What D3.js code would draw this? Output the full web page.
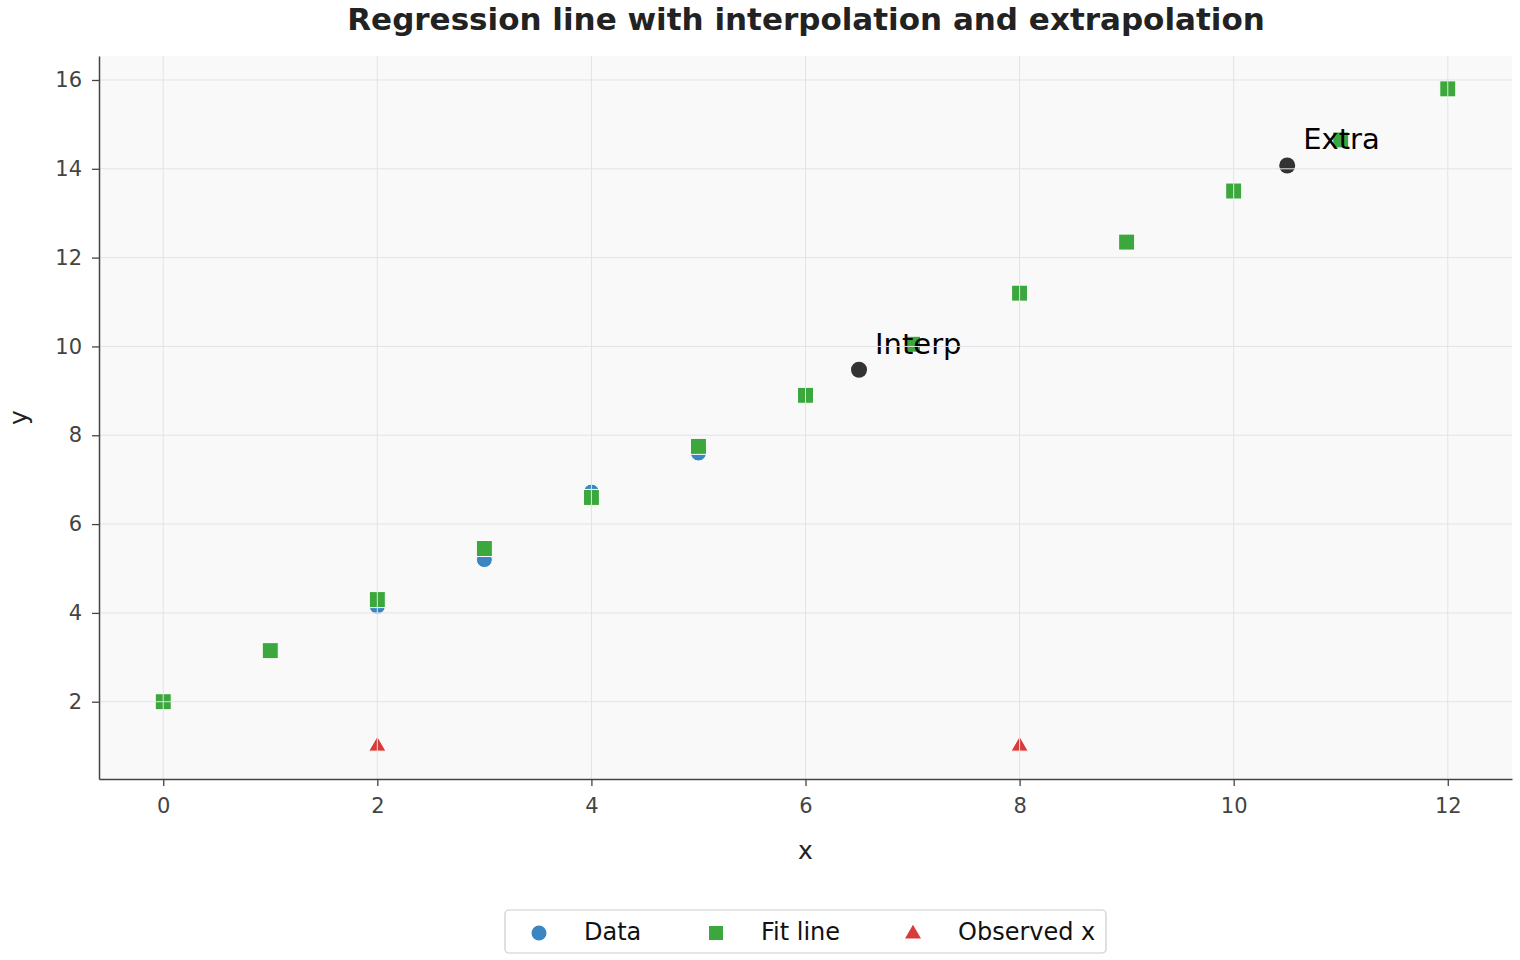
<!DOCTYPE html>
<html>
<head>
<meta charset="utf-8">
<script src="https://cdn.jsdelivr.net/npm/d3@7"></script>
<style>
  body { margin: 0; background: #fff; font-family: "DejaVu Sans", sans-serif; }
</style>
</head>
<body>
<div id="chart"></div>
<script>
// data
var dataX = [2, 3, 4, 5];
var dataY = [4.15, 5.2, 6.72, 7.6];

var fitX = [0, 1, 2, 3, 4, 5, 6, 7, 8, 9, 10, 11, 12];
var fitY = [2.0, 3.15, 4.3, 5.45, 6.6, 7.75, 8.9, 10.05, 11.2, 12.35, 13.5, 14.65, 15.8];

var observedX = [2, 8];
var observedY = [1, 1];

var noteX = [6.5, 10.5];
var noteY = [9.475, 14.075];
var noteText = ["Interp", "Extra"];

var xTicks = [0, 2, 4, 6, 8, 10, 12];
var yTicks = [2, 4, 6, 8, 10, 12, 14, 16];

var svgWidth = 1520;
var svgHeight = 960;

var margin = { top: 56, right: 8, bottom: 181, left: 99 };
var width = svgWidth - margin.left - margin.right;
var height = svgHeight - margin.top - margin.bottom;

var svg = d3.select("#chart")
  .append("svg")
  .attr("width", svgWidth)
  .attr("height", svgHeight);

var chartGroup = svg.append("g")
  .attr("transform", `translate(${margin.left}, ${margin.top})`);

var xScale = d3.scaleLinear().domain([-0.6, 12.6]).range([0, width]);
var yScale = d3.scaleLinear().domain([0.26, 16.54]).range([height, 0]);

// plot background
chartGroup.append("rect")
  .attr("width", width)
  .attr("height", height)
  .attr("fill", "#f9f9fa");

// markers
var sym = 16;
chartGroup.selectAll(".data")
  .data(dataX)
  .enter()
  .append("circle")
  .attr("cx", (d, i) => xScale(d))
  .attr("cy", (d, i) => yScale(dataY[i]))
  .attr("r", 8)
  .attr("fill", "#3a86c3")
  .attr("stroke", "#fff")
  .attr("stroke-width", 1);

chartGroup.selectAll(".fit")
  .data(fitX)
  .enter()
  .append("rect")
  .attr("x", d => xScale(d) - sym / 2)
  .attr("y", (d, i) => yScale(fitY[i]) - sym / 2)
  .attr("width", sym)
  .attr("height", sym)
  .attr("fill", "#3ca73c")
  .attr("stroke", "#fff")
  .attr("stroke-width", 1);

var tri = d3.symbol().type(d3.symbolTriangle).size(130);
chartGroup.selectAll(".obs")
  .data(observedX)
  .enter()
  .append("path")
  .attr("d", tri)
  .attr("transform", (d, i) => `translate(${xScale(d)}, ${yScale(observedY[i])})`)
  .attr("fill", "#d93a3a")
  .attr("stroke", "#fff")
  .attr("stroke-width", 1);

chartGroup.selectAll(".note")
  .data(noteX)
  .enter()
  .append("circle")
  .attr("cx", d => xScale(d))
  .attr("cy", (d, i) => yScale(noteY[i]))
  .attr("r", 8)
  .attr("fill", "#333333");

chartGroup.selectAll(".noteText")
  .data(noteText)
  .enter()
  .append("text")
  .attr("x", (d, i) => xScale(noteX[i]) + 16)
  .attr("y", (d, i) => yScale(noteY[i]) - 16)
  .style("font-size", "29px")
  .attr("fill", "#000")
  .text(d => d);

// grid sits above the markers in the picture
chartGroup.selectAll(".gx")
  .data(xTicks)
  .enter()
  .append("line")
  .attr("x1", d => xScale(d))
  .attr("x2", d => xScale(d))
  .attr("y1", 0)
  .attr("y2", height)
  .attr("stroke", "#e2e3e8")
  .attr("stroke-width", 1);

chartGroup.selectAll(".gy")
  .data(yTicks)
  .enter()
  .append("line")
  .attr("x1", 0)
  .attr("x2", width)
  .attr("y1", d => yScale(d))
  .attr("y2", d => yScale(d))
  .attr("stroke", "#e2e3e8")
  .attr("stroke-width", 1);

// axes
var xAxis = d3.axisBottom(xScale).tickValues(xTicks).tickSize(7).tickPadding(12).tickSizeOuter(0);
var yAxis = d3.axisLeft(yScale).tickValues(yTicks).tickSize(7).tickPadding(10).tickSizeOuter(0);

var gx = chartGroup.append("g")
  .attr("transform", `translate(0, ${height})`)
  .call(xAxis);

var gy = chartGroup.append("g")
  .call(yAxis);

[gx, gy].forEach(function(g) {
  g.select(".domain").attr("stroke", "#444").attr("stroke-width", 1.5);
  g.selectAll(".tick line").attr("stroke", "#444").attr("stroke-width", 1.3);
  g.selectAll(".tick text")
    .attr("fill", "#444")
    .style("font-size", "21px")
    .style("font-family", "DejaVu Sans, sans-serif");
});

// axis labels
svg.append("text")
  .attr("x", margin.left + width / 2)
  .attr("y", 859)
  .style("text-anchor", "middle")
  .style("font-size", "25px")
  .attr("fill", "#222")
  .text("x");

svg.append("text")
  .attr("transform", "translate(27, " + (margin.top + height / 2) + ") rotate(-90)")
  .style("text-anchor", "middle")
  .style("font-size", "25px")
  .attr("fill", "#222")
  .text("y");

// title
svg.append("text")
  .attr("x", 806)
  .attr("y", 30)
  .style("text-anchor", "middle")
  .style("font-size", "31px")
  .style("font-weight", "bold")
  .attr("fill", "#222")
  .text("Regression line with interpolation and extrapolation");

// legend
var legendNames = ["Data", "Fit line", "Observed x"];
var legendColors = ["#3a86c3", "#3ca73c", "#d93a3a"];
var legendMarkX = [539, 716, 913];

var legend = svg.append("g");
legend.append("rect")
  .attr("x", 505)
  .attr("y", 910)
  .attr("width", 601)
  .attr("height", 43)
  .attr("rx", 4)
  .attr("fill", "#fff")
  .attr("stroke", "#cccccc")
  .attr("stroke-width", 1.2);

legend.append("circle")
  .attr("cx", legendMarkX[0])
  .attr("cy", 933)
  .attr("r", 7.5)
  .attr("fill", legendColors[0]);

legend.append("rect")
  .attr("x", legendMarkX[1] - 7)
  .attr("y", 926)
  .attr("width", 14)
  .attr("height", 14)
  .attr("fill", legendColors[1]);

legend.append("path")
  .attr("d", d3.symbol().type(d3.symbolTriangle).size(110))
  .attr("transform", `translate(${legendMarkX[2]}, 934)`)
  .attr("fill", legendColors[2]);

legend.selectAll(".ltext")
  .data(legendNames)
  .enter()
  .append("text")
  .attr("x", (d, i) => legendMarkX[i] + 45)
  .attr("y", 940)
  .style("font-size", "24px")
  .attr("fill", "#111")
  .text(d => d);
</script>
</body>
</html>
